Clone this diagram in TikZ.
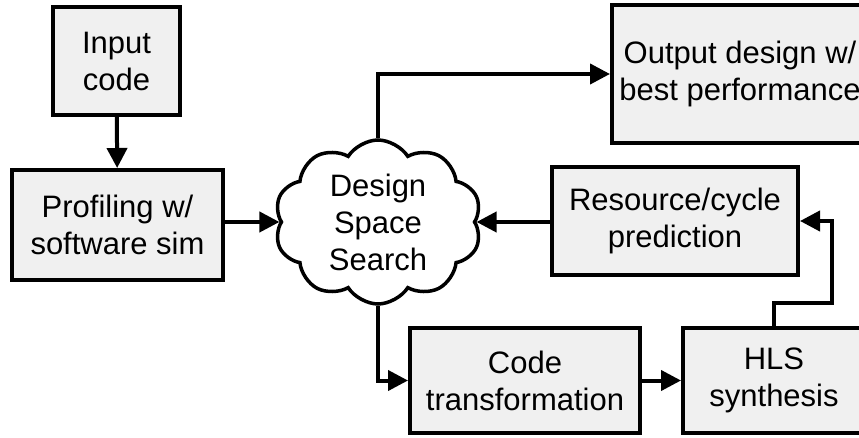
\documentclass[tikz,border=0pt]{standalone}
\usepackage{fontspec}
\setmainfont{Liberation Sans}
\usetikzlibrary{arrows.meta,shapes.symbols}
\definecolor{boxgray}{RGB}{240,240,240}

\begin{document}
\begin{tikzpicture}[x=1pt,y=-1pt,
    box/.style={draw,line width=4pt,fill=boxgray,align=center,inner sep=0pt,
      font=\fontsize{31}{37}\selectfont},
    arr/.style={line width=4pt,-{Triangle[length=20pt,width=20pt]}}]
    \useasboundingbox (0,0) rectangle (859,438);

    % Boxes
    \node[box,minimum width=127,minimum height=108] (input) at (116.5,61) {Input\\code};
    \node[box,minimum width=211,minimum height=110] (prof) at (117.5,225) {Profiling w/\\software sim};
    \node[box,minimum width=256,minimum height=138] (out) at (740,74) {Output design w/\\best performance};
    \node[box,minimum width=246,minimum height=108] (res) at (675,221) {Resource/cycle\\prediction};
    \node[box,minimum width=230,minimum height=105] (code) at (525,380.5) {Code\\transformation};
    \node[box,minimum width=182,minimum height=105] (hls) at (774,380.5) {HLS\\synthesis};

    % Search cloud
    \node[draw,line width=3.5pt,fill=white,shape=cloud,cloud puffs=10,cloud puff arc=115,
      cloud ignores aspect,minimum width=207,minimum height=164,inner sep=0pt,align=center,
      font=\fontsize{31}{37}\selectfont] (dss) at (378,222) {Design\\Space\\Search};

    % Arrows
    \coordinate (loop) at (832,303);
    \draw[arr] (input) -- (prof);
    \draw[arr] (prof.east |- dss.west) -- (dss.west);
    \draw[arr] (dss.north) |- (out.west);
    \draw[arr] (res.west |- dss.east) -- (dss.east);
    \draw[arr] (dss.south) |- (code.west);
    \draw[arr] (code) -- (hls);
    \draw[arr] (hls.north) |- (loop) |- (res.east);
\end{tikzpicture}
\end{document}
